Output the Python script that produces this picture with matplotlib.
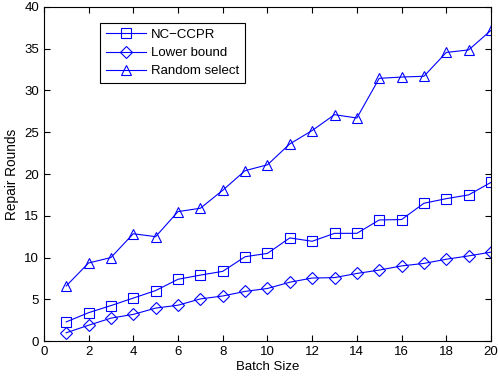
import matplotlib
matplotlib.use('Agg')
import matplotlib.pyplot as plt

plt.rcParams['font.family'] = ['Liberation Sans', 'DejaVu Sans']

# Batch sizes and repair rounds per method
batch = list(range(1, 21))
nc_ccpr = [2.3, 3.4, 4.25, 5.15, 6.05, 7.4, 7.9, 8.35, 10.1, 10.5,
           12.35, 11.95, 12.9, 12.9, 14.5, 14.55, 16.5, 17.05, 17.5, 19.0]
lower_bound = [1.0, 1.9, 2.75, 3.2, 3.95, 4.3, 5.05, 5.4, 5.95, 6.3,
               7.05, 7.55, 7.6, 8.1, 8.5, 9.0, 9.3, 9.8, 10.2, 10.65]
random_select = [6.6, 9.35, 10.0, 12.85, 12.5, 15.5, 15.9, 18.05, 20.4, 21.1,
                 23.6, 25.2, 27.1, 26.7, 31.45, 31.6, 31.7, 34.55, 34.85, 37.2]

fig = plt.figure(figsize=(4.98, 3.82), dpi=100)
ax = fig.add_axes([0.088, 0.107, 0.898, 0.875])

ax.plot(batch, nc_ccpr, color='b', marker='s', mfc='none', ms=7, lw=0.8, mew=0.8, label='NC\u2212CCPR')
ax.plot(batch, lower_bound, color='b', marker='D', mfc='none', ms=6.5, lw=0.8, mew=0.8, label='Lower bound')
ax.plot(batch, random_select, color='b', marker='^', mfc='none', ms=7, lw=0.8, mew=0.8, label='Random select')

ax.set_xlim(0, 20)
ax.set_ylim(0, 40)
ax.set_xticks(range(0, 21, 2))
ax.set_yticks(range(0, 41, 5))
ax.tick_params(direction='in', top=True, right=True, labelsize=9.5, length=4)
ax.set_xlabel('Batch Size', fontsize=9.5, labelpad=2)
ax.set_ylabel('Repair Rounds', fontsize=9.8, labelpad=4)

leg = ax.legend(loc='upper left', bbox_to_anchor=(0.125, 0.952), borderaxespad=0,
                fontsize=9.5, fancybox=False, edgecolor='k', framealpha=1,
                borderpad=0.45, labelspacing=0.45, handlelength=3.05,
                handletextpad=0.36)
leg.get_frame().set_linewidth(0.8)

fig.savefig('out.png', dpi=100)
